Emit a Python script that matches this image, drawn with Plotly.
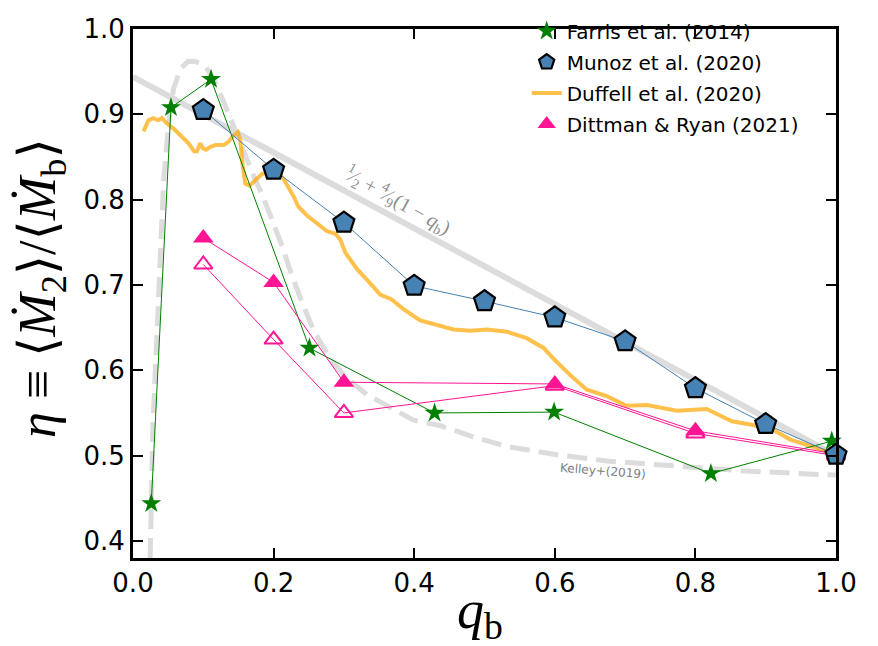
import plotly.graph_objects as go

# Farris et al. (2014)
farris_q = [0.026, 0.054, 0.111, 0.251, 0.429, 0.599, 0.822, 0.994]
farris_eta = [0.444, 0.908, 0.941, 0.626, 0.550, 0.551, 0.479, 0.517]

# Munoz et al. (2020)
munoz_q = [0.1, 0.2, 0.3, 0.4, 0.5, 0.6, 0.7, 0.8, 0.9, 1.0]
munoz_eta = [0.905, 0.835, 0.773, 0.699, 0.681, 0.662, 0.634, 0.579, 0.537, 0.501]

# Dittman & Ryan (2021): filled and open runs
dittman_q = [0.1, 0.2, 0.3, 0.6, 0.8, 1.0]
dittman_eta = [0.755, 0.703, 0.586, 0.584, 0.529, 0.502]
dittman_open_eta = [0.724, 0.636, 0.550, 0.582, 0.526, 0.500]

# Duffell et al. (2020) continuous curve
duffell_q = [0.015, 0.022, 0.029, 0.036, 0.041, 0.048, 0.058, 0.070, 0.079, 0.087,
             0.091, 0.0957, 0.0995, 0.104, 0.110, 0.118, 0.129, 0.136, 0.142, 0.149,
             0.1526, 0.156, 0.1597, 0.1658, 0.174, 0.1834, 0.1905, 0.2047, 0.214, 0.222,
             0.229, 0.235, 0.248, 0.262, 0.276, 0.288, 0.295, 0.302, 0.3185, 0.3374,
             0.3516, 0.368, 0.3848, 0.4085, 0.432, 0.456, 0.480, 0.503, 0.532, 0.560,
             0.584, 0.600, 0.622, 0.6455, 0.674, 0.702, 0.731, 0.7735, 0.816, 0.852,
             0.882, 0.911, 0.935, 0.968, 0.987, 1.0]
duffell_eta = [0.880, 0.893, 0.8955, 0.893, 0.8955, 0.8894, 0.883, 0.8736, 0.866, 0.8566,
               0.8566, 0.866, 0.860, 0.8585, 0.862, 0.864, 0.864, 0.868, 0.8743, 0.879,
               0.870, 0.840, 0.8188, 0.8162, 0.8226, 0.830, 0.832, 0.832, 0.8245, 0.813,
               0.803, 0.792, 0.781, 0.772, 0.763, 0.760, 0.753, 0.738, 0.7188, 0.7018,
               0.6886, 0.683, 0.6716, 0.6584, 0.6528, 0.6478, 0.6463, 0.6478, 0.6452, 0.6376,
               0.6262, 0.612, 0.5943, 0.5773, 0.5697, 0.5584, 0.5592, 0.5527, 0.5546, 0.5403,
               0.5358, 0.5301, 0.5188, 0.5094, 0.505, 0.502]

# Kelley+(2019) curve
kelley_q = [0.0244, 0.0284, 0.034, 0.0378, 0.0402, 0.0435, 0.0473, 0.052, 0.0577, 0.0673,
            0.078, 0.0886, 0.1028, 0.1146, 0.1288, 0.143, 0.1572, 0.1715, 0.1857, 0.1999,
            0.2141, 0.2212, 0.2379, 0.2568, 0.2805, 0.3043, 0.3327, 0.3658, 0.399, 0.437,
            0.4843, 0.5318, 0.6029, 0.674, 0.7687, 0.8635, 0.9583, 1.0]
kelley_eta = [0.380, 0.537, 0.640, 0.715, 0.764, 0.821, 0.8585, 0.900, 0.930, 0.953,
              0.962, 0.962, 0.9566, 0.9415, 0.915, 0.885, 0.8585, 0.8283, 0.8018, 0.7717,
              0.7415, 0.7225, 0.6848, 0.6471, 0.6131, 0.5905, 0.5716, 0.5566, 0.5415, 0.5351,
              0.522, 0.5106, 0.5011, 0.4937, 0.488, 0.4824, 0.4785, 0.4772]

# Linear reference 1/2 + 4/9 (1 - q)
linear_q = [0.0, 1.0]
linear_eta = [0.944, 0.5]

x_ticks = [0.0, 0.2, 0.4, 0.6, 0.8, 1.0]
y_ticks = [0.4, 0.5, 0.6, 0.7, 0.8, 0.9, 1.0]

GREEN = "#008000"
STEEL = "#4682B4"
PINK = "#FF1493"
ORANGE = "rgba(255,165,0,0.7)"
LGRAY = "#dcdcdc"

fig = go.Figure()


def connector(x, y, color, width=1):
    """Thin line joining a series' points, kept out of the legend."""
    fig.add_trace(go.Scatter(x=x, y=y, mode="lines", showlegend=False, hoverinfo="skip",
                             line=dict(color=color, width=width)))


fig.add_trace(go.Scatter(x=kelley_q, y=kelley_eta, mode="lines", showlegend=False,
                         line=dict(color=LGRAY, width=5, dash="20px,9px")))
fig.add_trace(go.Scatter(x=linear_q, y=linear_eta, mode="lines", showlegend=False,
                         line=dict(color=LGRAY, width=6)))
fig.add_trace(go.Scatter(x=duffell_q, y=duffell_eta, mode="lines", name="Duffell et al. (2020)",
                         legendgroup="d", legendrank=3,
                         line=dict(color=ORANGE, width=4)))

connector(farris_q, farris_eta, GREEN)
fig.add_trace(go.Scatter(x=farris_q, y=farris_eta, mode="markers", name="Farris et al. (2014)",
                         legendgroup="f", legendrank=1, cliponaxis=False,
                         marker=dict(symbol="star", size=15, color=GREEN, line=dict(width=0))))

connector(dittman_q, dittman_open_eta, PINK)
fig.add_trace(go.Scatter(x=dittman_q, y=dittman_open_eta, mode="markers", showlegend=False,
                         cliponaxis=False,
                         marker=dict(symbol="triangle-up-open", size=16, color=PINK,
                                     line=dict(width=2, color=PINK))))
connector(dittman_q, dittman_eta, PINK)
fig.add_trace(go.Scatter(x=dittman_q, y=dittman_eta, mode="markers", name="Dittman & Ryan (2021)",
                         legendgroup="r", legendrank=4, cliponaxis=False,
                         marker=dict(symbol="triangle-up", size=18, color=PINK, line=dict(width=0))))

connector(munoz_q, munoz_eta, STEEL)
fig.add_trace(go.Scatter(x=munoz_q, y=munoz_eta, mode="markers", name="Munoz et al. (2020)",
                         legendgroup="m", legendrank=2, cliponaxis=False,
                         marker=dict(symbol="pentagon", size=22, color=STEEL,
                                     line=dict(width=2.2, color="black"))))

axis_common = dict(
    showline=True, linewidth=3, linecolor="black", mirror="ticks",
    ticks="inside", ticklen=10, tickwidth=2, tickcolor="black",
    showgrid=False, zeroline=False,
    tickfont=dict(family="DejaVu Sans", size=26, color="black"),
)

fig.update_layout(
    width=878, height=646,
    margin=dict(l=133, r=42, t=12, b=88),
    paper_bgcolor="white", plot_bgcolor="white",
    xaxis=dict(range=[0, 1], tickvals=x_ticks, ticktext=[f"{v:.1f}" for v in x_ticks], **axis_common),
    yaxis=dict(range=[0.38, 1.0], tickvals=y_ticks, ticktext=[f"{v:.1f}" for v in y_ticks], **axis_common),
    legend=dict(x=0.56, y=1.033, xanchor="left", yanchor="top", bgcolor="rgba(0,0,0,0)",
                font=dict(family="DejaVu Sans", size=20, color="black"), tracegroupgap=2),
    annotations=[
        dict(text="<i>q</i><sub>b</sub>", xref="paper", yref="paper", x=0.494, y=-0.105,
             xanchor="center", yanchor="middle",
             showarrow=False, font=dict(family="Liberation Serif, DejaVu Serif", size=54, color="black")),
        dict(text="<i>η</i> ≡ ⟨<i>Ṁ</i><sub>2</sub>⟩/⟨<i>Ṁ</i><sub>b</sub>⟩",
             xref="paper", yref="paper", x=-0.131, y=0.51, textangle=-90,
             xanchor="center", yanchor="middle",
             showarrow=False, font=dict(family="Liberation Serif, DejaVu Serif", size=52, color="black")),
        dict(text="<sup>1</sup>⁄<sub>2</sub> + <sup>4</sup>⁄<sub>9</sub>(1 − <i>q</i><sub>b</sub>)",
             x=0.377, y=0.799, textangle=29, showarrow=False,
             font=dict(family="Liberation Serif, DejaVu Serif", size=20, color="#8c8c8c")),
        dict(text="Kelley+(2019)", x=0.668, y=0.4815, textangle=4.5, showarrow=False,
             font=dict(family="DejaVu Sans", size=12, color="#808080")),
    ],
)

fig.write_html("out.html")
